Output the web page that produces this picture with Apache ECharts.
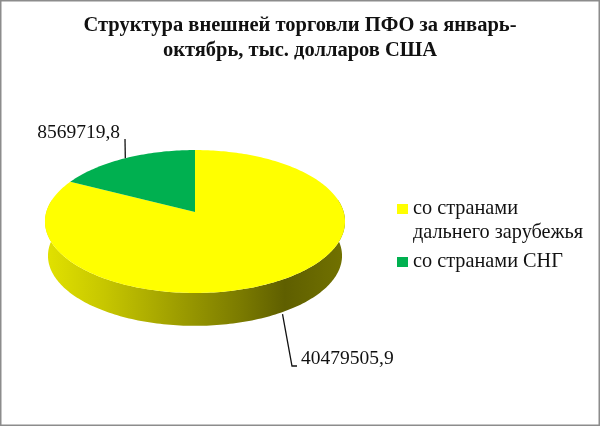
<!DOCTYPE html>
<html><head><meta charset="utf-8">
<style>html,body{margin:0;padding:0;background:#fff}#c{width:600px;height:426px}</style>
<script src="https://cdn.jsdelivr.net/npm/echarts@6/dist/echarts.min.js"></script>
</head><body><div id="c"></div>
<script>
const titleLines = ['Структура внешней торговли ПФО за январь-', 'октябрь, тыс. долларов США'];
const categories = ['со странами\nдальнего зарубежья', 'со странами СНГ'];
const values = [40479505.9, 8569719.8];
const colors = ['#ffff00', '#00b050'];

const total = values.reduce((a, b) => a + b, 0);
const FONT = '"Liberation Serif","Times New Roman",serif';
// perspective projection of the pie disc
const P = {cx: 195, cy: 212, rx: 148.7, ry: 70.2, k: 0.133, depth: 34.5, shrink: 0.98};
function project(theta, r, dy) {
  const u = Math.sin(theta), v = Math.cos(theta), w = 1 + P.k * v;
  return [P.cx + r * P.rx * u / w, P.cy + dy - r * P.ry * v / w];
}
function arc(a, b, r, dy) {
  const n = Math.max(2, Math.ceil(Math.abs(b - a) / 0.02)), pts = [];
  for (let i = 0; i <= n; i++) pts.push(project(a + (b - a) * i / n, r, dy));
  return pts;
}
const fmt = v => v.toFixed(1).replace('.', ',');
const leaders = [
  {via: [[292, 366], [297, 366]], tx: 301, ty: 359, align: 'left'},
  {via: [[125, 139]], tx: 120, ty: 133, align: 'right'}
];
function renderer(idx) {
  return function (params, api) {
    const val = api.value(0);
    let before = 0;
    for (let i = 0; i < idx; i++) before += values[i];
    const a = before / total * 2 * Math.PI, b = (before + val) / total * 2 * Math.PI;
    const mid = (a + b) / 2;
    const children = [];
    const sa = Math.max(a, 80 * Math.PI / 180), sb = Math.min(b, 280 * Math.PI / 180);
    if (sb > sa) {
      const pts = arc(sa, sb, 1, 0).concat(arc(sb, sa, P.shrink, P.depth));
      children.push({type: 'polygon', shape: {points: pts}, style: {
        fill: new echarts.graphic.LinearGradient(0, 0, 1, 0, [
          {offset: 0, color: '#e2e200'}, {offset: 0.2, color: '#c6c600'},
          {offset: 0.45, color: '#9c9c00'}, {offset: 0.65, color: '#7b7b00'},
          {offset: 0.8, color: '#5f5f00'}, {offset: 1, color: '#727200'}
        ])}});
    }
    children.push({type: 'polygon',
      shape: {points: [project(0, 0, 0)].concat(arc(a, b, 1, 0))},
      style: {fill: colors[idx]}});
    const front = Math.cos(mid) < 0;
    const L = leaders[idx];
    const anchor = project(mid, 1, front ? P.depth : 0);
    children.push({type: 'polyline', shape: {points: [anchor].concat(L.via)},
      style: {stroke: '#111', lineWidth: 1.3, fill: null}});
    children.push({type: 'text', style: {text: fmt(val), x: L.tx, y: L.ty, fill: '#111',
      font: '19.5px ' + FONT, align: L.align, verticalAlign: 'middle'}});
    return {type: 'group', children};
  };
}
const chart = echarts.init(document.getElementById('c'), null, {renderer: 'canvas'});
chart.setOption({
  animation: false,
  backgroundColor: '#fff',
  title: {
    text: titleLines.join('\n'), left: 'center', top: 8,
    textStyle: {fontFamily: FONT, fontWeight: 'bold', fontSize: 20.5, lineHeight: 25, color: '#111'}
  },
  legend: {
    data: categories, orient: 'vertical', left: 392, top: 168, itemWidth: 11, itemHeight: 10, itemGap: 5,
    icon: 'rect', selectedMode: false,
    formatter: n => n.indexOf('\n') >= 0 ? ' \n' + n : n,
    textStyle: {fontFamily: FONT, fontSize: 20.3, lineHeight: 24, color: '#111'}
  },
  graphic: [{type: 'rect', silent: true, z: 100, shape: {x: 0, y: 0, width: 600, height: 426},
    style: {fill: null, stroke: '#8c8c8c', lineWidth: 3}}],
  series: categories.map((name, i) => ({
    type: 'custom', name, coordinateSystem: 'none', silent: true,
    itemStyle: {color: colors[i]}, data: [values[i]], renderItem: renderer(i)
  }))
});
</script></body></html>
